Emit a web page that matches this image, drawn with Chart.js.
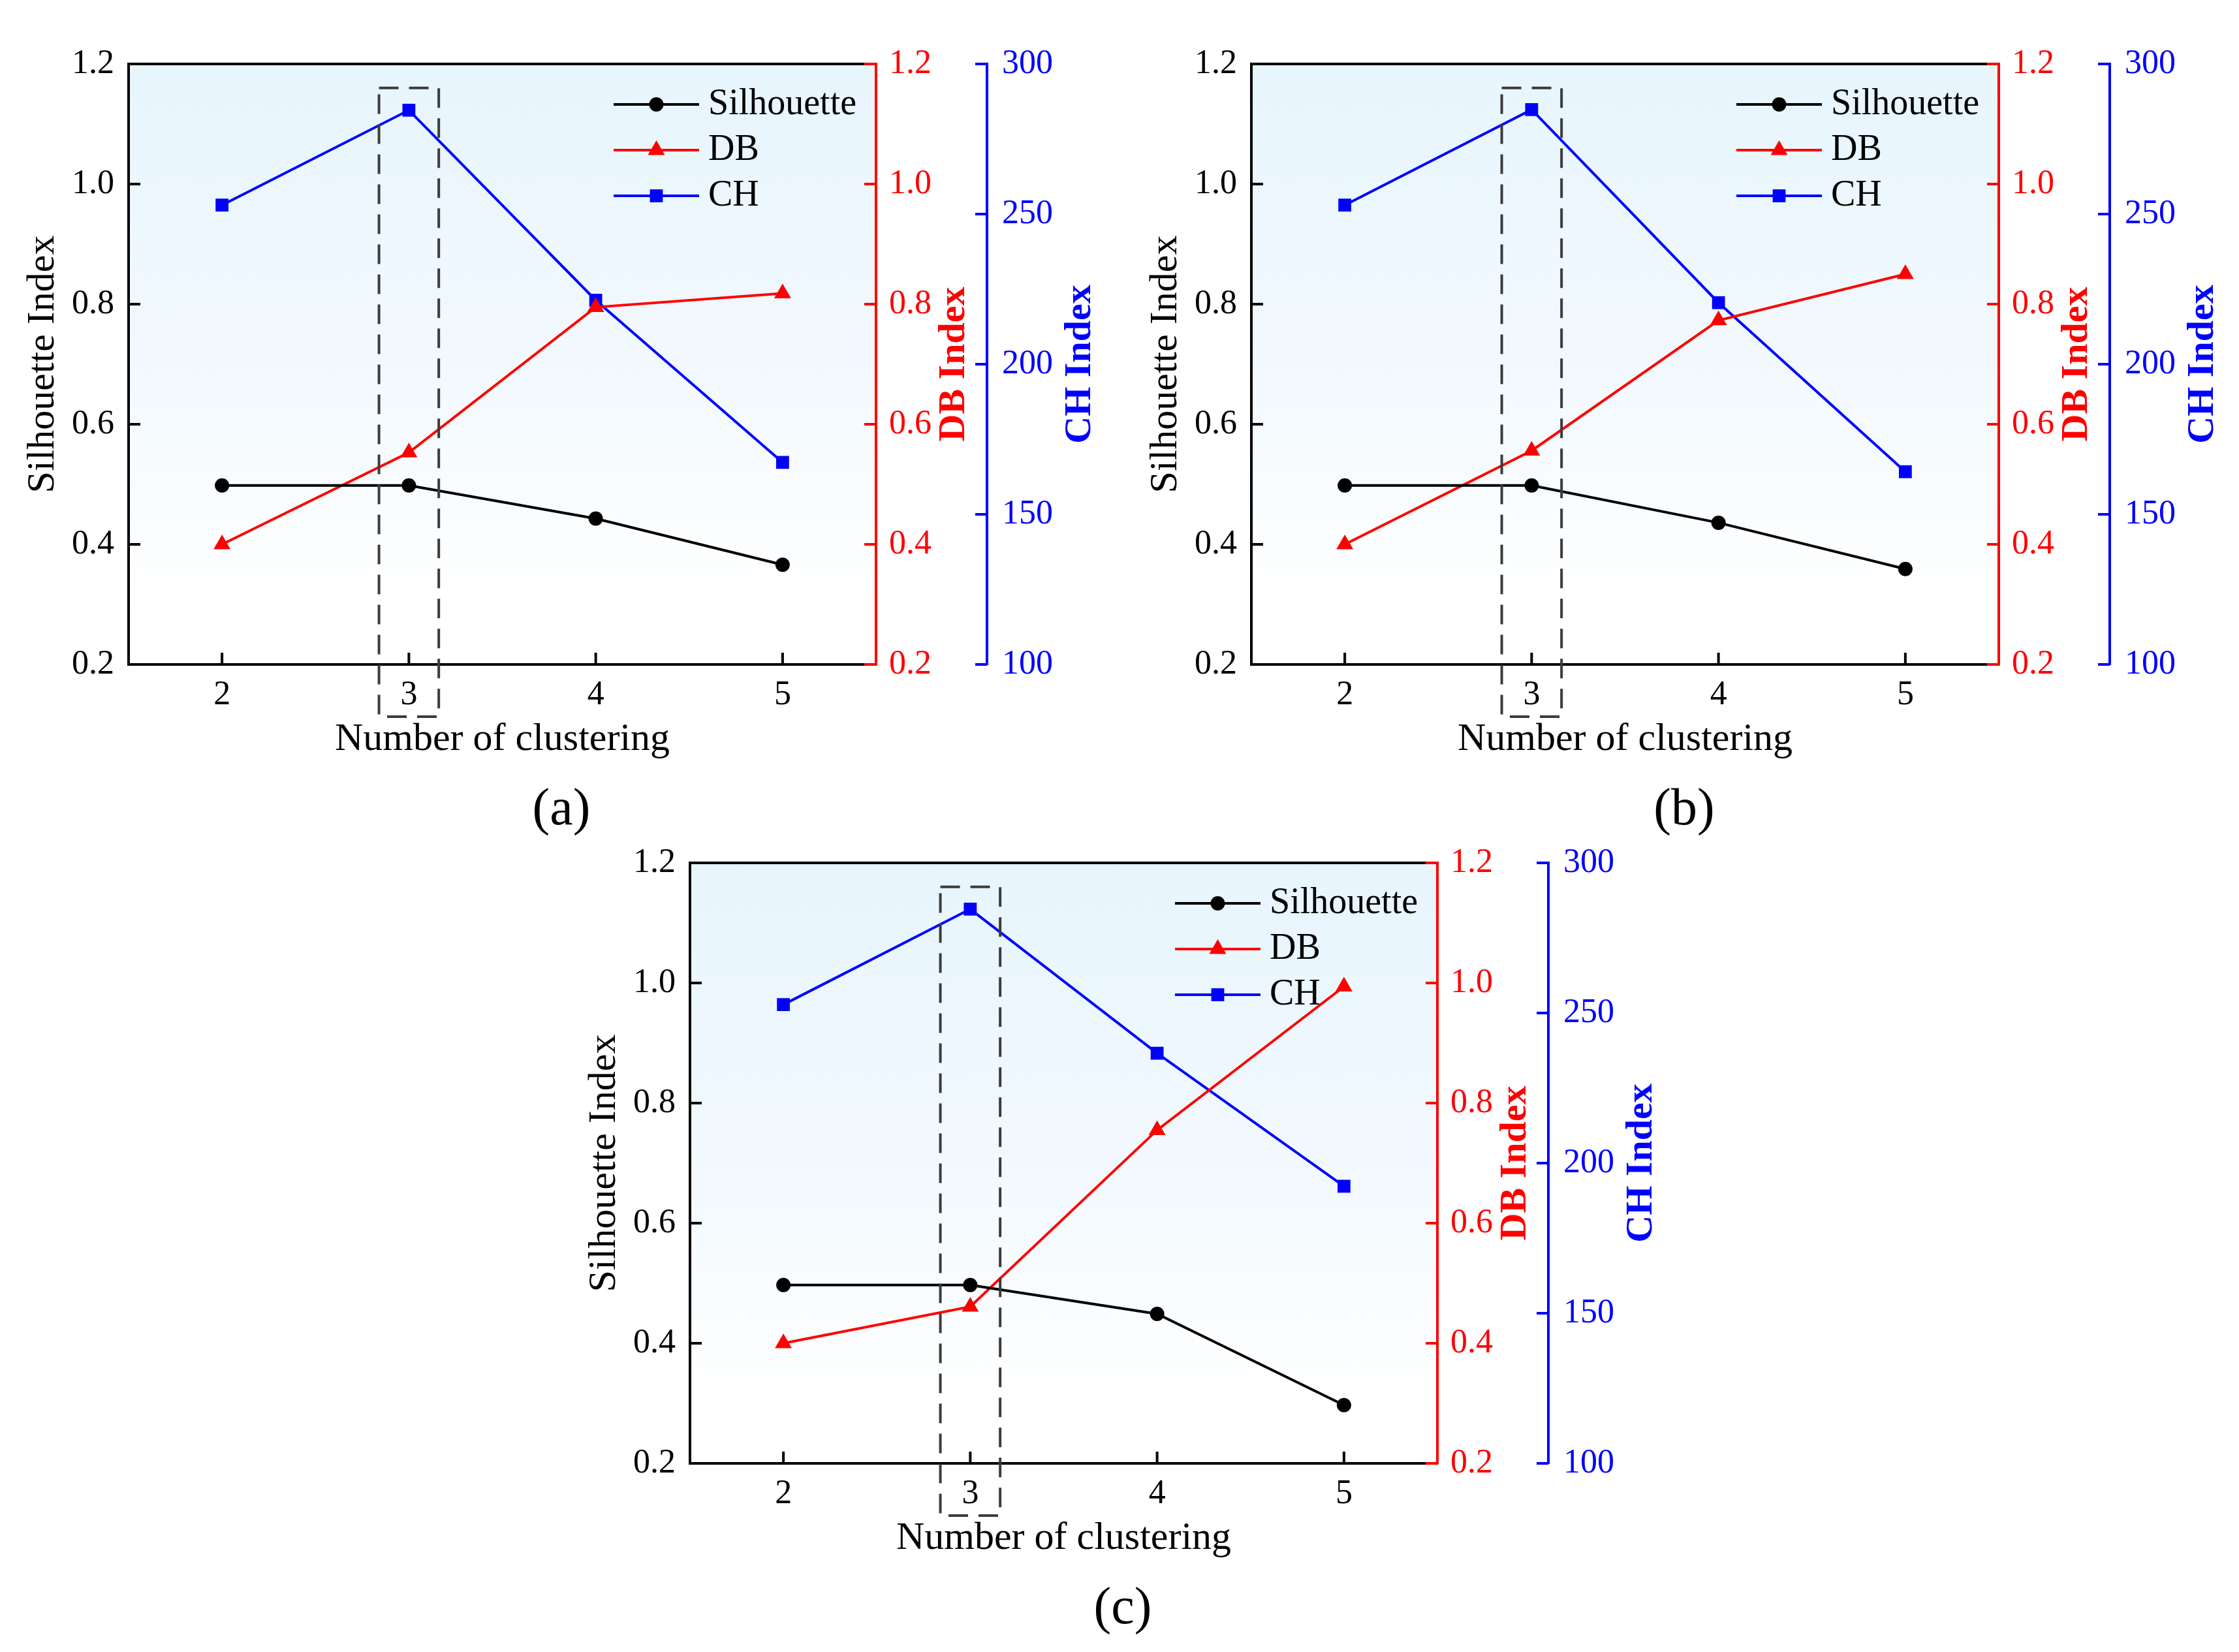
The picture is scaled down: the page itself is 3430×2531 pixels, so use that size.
<!DOCTYPE html>
<html>
<head>
<meta charset="utf-8">
<script src="https://cdn.jsdelivr.net/npm/chart.js@4.4.1/dist/chart.umd.min.js"></script>
<style>
  html, body { margin: 0; padding: 0; background: #fff; overflow: hidden; }
  #page { position: relative; width: 3430px; height: 2531px; }
  .panel { position: absolute; width: 1705px; height: 1180px; }
  .tag { position: absolute; width: 200px; text-align: center; color: #000;
         font: 80px 'Liberation Serif', 'Times New Roman', serif; line-height: 80px; }
</style>
</head>
<body>
<div id="page">
  <div class="panel" style="left:0px;top:0px"><canvas id="chart_a" width="1705" height="1180"></canvas></div>
  <div class="panel" style="left:1720px;top:0px"><canvas id="chart_b" width="1705" height="1180"></canvas></div>
  <div class="panel" style="left:860px;top:1224px"><canvas id="chart_c" width="1705" height="1180"></canvas></div>
  <div class="tag" style="left:760px;top:1196px">(a)</div>
  <div class="tag" style="left:2480px;top:1196px">(b)</div>
  <div class="tag" style="left:1620px;top:2420px">(c)</div>
</div>
<script>
const CLUSTERS = [2, 3, 4, 5];

const SIL_A = [0.498, 0.498, 0.443, 0.366];
const DB_A  = [0.400, 0.553, 0.795, 0.818];
const CH_A  = [253.0, 284.6, 221.3, 167.3];

const SIL_B = [0.498, 0.498, 0.436, 0.359];
const DB_B  = [0.400, 0.556, 0.773, 0.850];
const CH_B  = [253.0, 284.8, 220.5, 164.2];

const SIL_C = [0.497, 0.497, 0.449, 0.297];
const DB_C  = [0.400, 0.461, 0.755, 0.994];
const CH_C  = [252.8, 284.6, 236.6, 192.3];

const LEFT_TICKS = [0.2, 0.4, 0.6, 0.8, 1.0, 1.2];
const CH_TICKS = [100, 150, 200, 250, 300];

// dashed box drawn round k = 3 (in data units of x and the left axis)
const BOX_X = [2.84, 3.16];
const BOX_Y = [0.113, 1.16];

const FONT = "'Liberation Serif', 'Times New Roman', serif";
const RED = '#ff0000';
const BLUE = '#0000ff';
const BLACK = '#000000';

function points(vals) {
  return CLUSTERS.map((k, i) => ({x: k, y: vals[i]}));
}

function fixTicks(list) {
  return scale => { scale.ticks = list.map(v => ({value: v})); };
}

const framePlugin = {
  id: 'frame',
  beforeDraw(chart) {
    const {ctx, chartArea: a} = chart;
    const g = ctx.createLinearGradient(0, a.top, 0, a.bottom);
    g.addColorStop(0, 'rgb(231, 245, 253)');
    g.addColorStop(0.5, 'rgb(242, 249, 254)');
    g.addColorStop(0.9, 'rgb(255, 255, 255)');
    g.addColorStop(1, 'rgb(255, 255, 255)');
    ctx.save();
    ctx.fillStyle = g;
    ctx.fillRect(a.left, a.top, a.right - a.left, a.bottom - a.top);
    ctx.restore();
  },
  afterDraw(chart) {
    const {ctx, chartArea: a, scales} = chart;
    const line = (color, x0, y0, x1, y1) => {
      ctx.strokeStyle = color;
      ctx.beginPath();
      ctx.moveTo(x0, y0);
      ctx.lineTo(x1, y1);
      ctx.stroke();
    };
    ctx.save();
    ctx.lineWidth = 4;

    // top edge of the frame
    line(BLACK, a.left - 2, a.top, a.right, a.top);

    // tick marks point inward
    const len = 18;
    scales.y.ticks.forEach(t => {
      const py = scales.y.getPixelForValue(t.value);
      line(BLACK, a.left, py, a.left + len, py);
    });
    scales.y1.ticks.forEach(t => {
      const py = scales.y1.getPixelForValue(t.value);
      line(RED, a.right - len, py, a.right, py);
    });
    scales.y2.ticks.forEach(t => {
      const py = scales.y2.getPixelForValue(t.value);
      line(BLUE, scales.y2.left - len, py, scales.y2.left, py);
    });
    scales.x.ticks.forEach(t => {
      const px = scales.x.getPixelForValue(t.value);
      line(BLACK, px, a.bottom, px, a.bottom - len);
    });

    // right-hand axis titles, reading bottom to top
    [[scales.y1, 120], [scales.y2, 143]].forEach(([s, off]) => {
      ctx.save();
      ctx.translate(s.left + off, (a.top + a.bottom) / 2);
      ctx.rotate(-Math.PI / 2);
      ctx.font = 'bold 58px ' + FONT;
      ctx.fillStyle = s.options.title.color;
      ctx.textAlign = 'center';
      ctx.textBaseline = 'middle';
      ctx.fillText(s.options.title.text, 0, 0);
      ctx.restore();
    });

    // dashed box round the chosen cluster number
    const bx0 = scales.x.getPixelForValue(BOX_X[0]);
    const bx1 = scales.x.getPixelForValue(BOX_X[1]);
    const by0 = scales.y.getPixelForValue(BOX_Y[1]);
    const by1 = scales.y.getPixelForValue(BOX_Y[0]);
    ctx.save();
    ctx.strokeStyle = 'rgb(60, 60, 60)';
    ctx.lineWidth = 4;
    ctx.setLineDash([30, 16]);
    ctx.strokeRect(bx0, by0, bx1 - bx0, by1 - by0);
    ctx.restore();

    // legend in the upper right of the plot
    chart.data.datasets.forEach((ds, i) => {
      const y = a.top + 62 + i * 70;
      const x0 = a.right - 402;
      const x1 = a.right - 271;
      ctx.lineWidth = 4;
      line(ds.borderColor, x0, y, x1, y);
      ctx.fillStyle = ds.pointBackgroundColor;
      ctx.strokeStyle = ds.borderColor;
      Chart.helpers.drawPoint(ctx, {
        pointStyle: ds.pointStyle, radius: ds.pointRadius, rotation: 0, borderWidth: 0
      }, (x0 + x1) / 2, y);
      ctx.fillStyle = BLACK;
      ctx.font = '56px ' + FONT;
      ctx.textAlign = 'left';
      ctx.textBaseline = 'middle';
      ctx.fillText(ds.label, a.right - 257, y);
    });
    ctx.restore();
  }
};

function series(label, vals, axis, color, style, radius) {
  return {
    label: label,
    data: points(vals),
    yAxisID: axis,
    borderColor: color,
    backgroundColor: color,
    pointBackgroundColor: color,
    pointStyle: style,
    pointRadius: radius,
    pointBorderWidth: 0,
    borderWidth: 4,
    tension: 0
  };
}

function tickFont() {
  return {family: FONT, size: 52};
}

function createPanel(canvasId, sil, db, ch) {
  const canvas = document.getElementById(canvasId);
  return new Chart(canvas, {
    type: 'line',
    data: {
      datasets: [
        series('Silhouette', sil, 'y', BLACK, 'circle', 11),
        series('DB', db, 'y1', RED, 'triangle', 15),
        series('CH', ch, 'y2', BLUE, 'rect', 14)
      ]
    },
    options: {
      responsive: false,
      animation: false,
      devicePixelRatio: 1,
      events: [],
      layout: {padding: {top: 98, left: 0, right: 0, bottom: 0}},
      plugins: {legend: {display: false}, tooltip: {enabled: false}},
      scales: {
        x: {
          type: 'linear',
          min: 1.5,
          max: 5.5,
          afterBuildTicks: fixTicks(CLUSTERS),
          afterFit: s => { s.height = 162; },
          grid: {display: false, drawTicks: false},
          border: {display: true, color: BLACK, width: 4},
          ticks: {font: tickFont(), color: BLACK, padding: 16, callback: v => String(v)},
          title: {
            display: true, text: 'Number of clustering', color: BLACK,
            font: {family: FONT, size: 60}, padding: {top: 0, bottom: 11}
          }
        },
        y: {
          position: 'left',
          min: 0.2,
          max: 1.2,
          afterBuildTicks: fixTicks(LEFT_TICKS),
          afterFit: s => { s.width = 197; },
          grid: {display: false, drawTicks: false},
          border: {display: true, color: BLACK, width: 4},
          ticks: {font: tickFont(), color: BLACK, padding: 22, callback: v => v.toFixed(1)},
          title: {
            display: true, text: 'Silhouette Index', color: BLACK,
            font: {family: FONT, size: 60}, padding: {top: 30, bottom: 0}
          }
        },
        y1: {
          position: 'right',
          weight: 0,
          min: 0.2,
          max: 1.2,
          afterBuildTicks: fixTicks(LEFT_TICKS),
          afterFit: s => { s.width = 170; },
          grid: {display: false, drawTicks: false},
          border: {display: true, color: RED, width: 4},
          ticks: {font: tickFont(), color: RED, padding: 20, callback: v => v.toFixed(1)},
          title: {display: false, text: 'DB Index', color: RED}
        },
        y2: {
          position: 'right',
          weight: 1,
          min: 100,
          max: 300,
          afterBuildTicks: fixTicks(CH_TICKS),
          afterFit: s => { s.width = 193; },
          grid: {display: false, drawTicks: false},
          border: {display: true, color: BLUE, width: 4},
          ticks: {font: tickFont(), color: BLUE, padding: 23, callback: v => String(v)},
          title: {display: false, text: 'CH Index', color: BLUE}
        }
      }
    },
    plugins: [framePlugin]
  });
}

createPanel('chart_a', SIL_A, DB_A, CH_A);
createPanel('chart_b', SIL_B, DB_B, CH_B);
createPanel('chart_c', SIL_C, DB_C, CH_C);
</script>
</body>
</html>
